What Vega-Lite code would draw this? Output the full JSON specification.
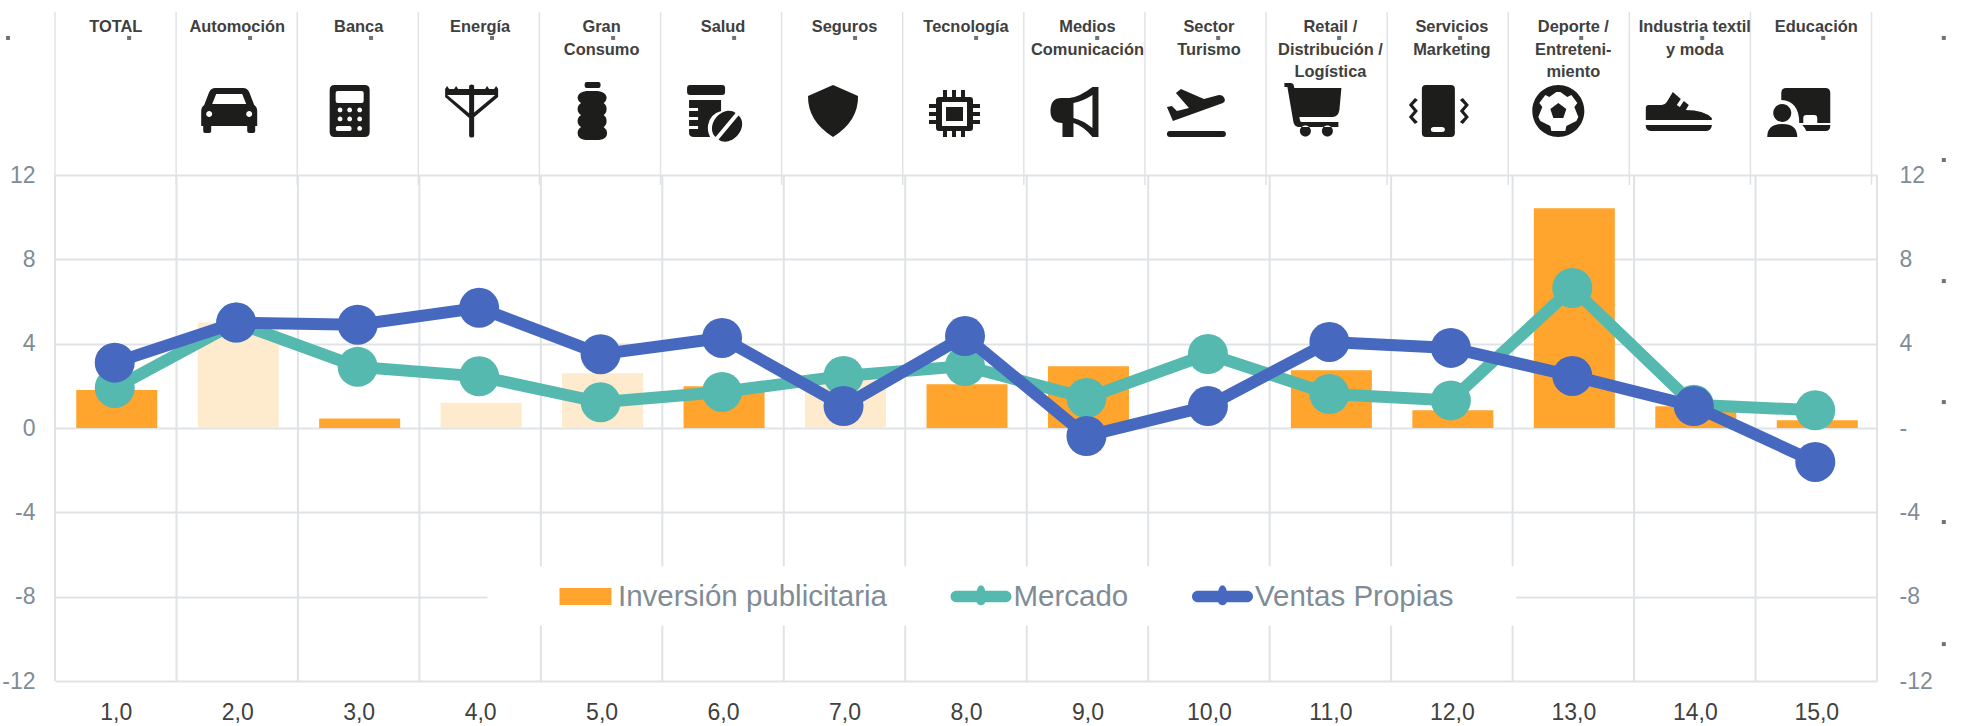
{
"$schema":"https://vega.github.io/schema/vega-lite/v6.json",
"autosize":"none",
"padding":{"left":55,"top":175,"right":87,"bottom":45},
"width":1822,"height":506,
"background":"white",
"config":{"view":{"stroke":null},"font":"Liberation Sans"},
"datasets":{
"valores":[
{"n":1,"serie":"Inversión publicitaria","valor":1.8,"atenuada":false},
{"n":2,"serie":"Inversión publicitaria","valor":5.0,"atenuada":true},
{"n":3,"serie":"Inversión publicitaria","valor":0.45,"atenuada":false},
{"n":4,"serie":"Inversión publicitaria","valor":1.2,"atenuada":true},
{"n":5,"serie":"Inversión publicitaria","valor":2.6,"atenuada":true},
{"n":6,"serie":"Inversión publicitaria","valor":1.98,"atenuada":false},
{"n":7,"serie":"Inversión publicitaria","valor":2.26,"atenuada":true},
{"n":8,"serie":"Inversión publicitaria","valor":2.07,"atenuada":false},
{"n":9,"serie":"Inversión publicitaria","valor":2.93,"atenuada":false},
{"n":11,"serie":"Inversión publicitaria","valor":2.74,"atenuada":false},
{"n":12,"serie":"Inversión publicitaria","valor":0.84,"atenuada":false},
{"n":13,"serie":"Inversión publicitaria","valor":10.42,"atenuada":false},
{"n":14,"serie":"Inversión publicitaria","valor":1.03,"atenuada":false},
{"n":15,"serie":"Inversión publicitaria","valor":0.37,"atenuada":false},
{"n":1,"serie":"Mercado","valor":1.9},
{"n":2,"serie":"Mercado","valor":5.0},
{"n":3,"serie":"Mercado","valor":2.9},
{"n":4,"serie":"Mercado","valor":2.45},
{"n":5,"serie":"Mercado","valor":1.22},
{"n":6,"serie":"Mercado","valor":1.71},
{"n":7,"serie":"Mercado","valor":2.47},
{"n":8,"serie":"Mercado","valor":2.94},
{"n":9,"serie":"Mercado","valor":1.42},
{"n":10,"serie":"Mercado","valor":3.51},
{"n":11,"serie":"Mercado","valor":1.61},
{"n":12,"serie":"Mercado","valor":1.31},
{"n":13,"serie":"Mercado","valor":6.64},
{"n":14,"serie":"Mercado","valor":1.1},
{"n":15,"serie":"Mercado","valor":0.84},
{"n":1,"serie":"Ventas Propias","valor":3.1},
{"n":2,"serie":"Ventas Propias","valor":5.0},
{"n":3,"serie":"Ventas Propias","valor":4.9},
{"n":4,"serie":"Ventas Propias","valor":5.7},
{"n":5,"serie":"Ventas Propias","valor":3.5},
{"n":6,"serie":"Ventas Propias","valor":4.27},
{"n":7,"serie":"Ventas Propias","valor":1.04},
{"n":8,"serie":"Ventas Propias","valor":4.36},
{"n":9,"serie":"Ventas Propias","valor":-0.38},
{"n":10,"serie":"Ventas Propias","valor":1.04},
{"n":11,"serie":"Ventas Propias","valor":4.08},
{"n":12,"serie":"Ventas Propias","valor":3.8},
{"n":13,"serie":"Ventas Propias","valor":2.47},
{"n":14,"serie":"Ventas Propias","valor":1.04},
{"n":15,"serie":"Ventas Propias","valor":-1.61}
],
"sectores":[
{"n":1,"nombre":"TOTAL"},
{"n":2,"nombre":"Automoción"},
{"n":3,"nombre":"Banca"},
{"n":4,"nombre":"Energía"},
{"n":5,"nombre":"Gran|Consumo"},
{"n":6,"nombre":"Salud"},
{"n":7,"nombre":"Seguros"},
{"n":8,"nombre":"Tecnología"},
{"n":9,"nombre":"Medios|Comunicación"},
{"n":10,"nombre":"Sector|Turismo"},
{"n":11,"nombre":"Retail /|Distribución /|Logística"},
{"n":12,"nombre":"Servicios|Marketing"},
{"n":13,"nombre":"Deporte /|Entreteni-|miento"},
{"n":14,"nombre":"Industria textil|y moda"},
{"n":15,"nombre":"Educación"}
],
"rejilla":[{"n":0.5},{"n":1.5},{"n":2.5},{"n":3.5},{"n":4.5},{"n":5.5},{"n":6.5},{"n":7.5},{"n":8.5},{"n":9.5},{"n":10.5},{"n":11.5},{"n":12.5},{"n":13.5},{"n":14.5},{"n":15.5}],
"cabecera":[{"n":0.5},{"n":1.497},{"n":2.494},{"n":3.491},{"n":4.488},{"n":5.485},{"n":6.482},{"n":7.479},{"n":8.476},{"n":9.473},{"n":10.47},{"n":11.467},{"n":12.464},{"n":13.461},{"n":14.458},{"n":15.455}],
"puntos":[
{"n":0.113,"v":18.5},{"n":1.11,"v":18.5},{"n":2.106,"v":18.5},{"n":3.102,"v":18.5},{"n":4.098,"v":18.5},{"n":5.095,"v":18.5},{"n":6.091,"v":18.5},{"n":7.087,"v":18.5},{"n":8.083,"v":18.5},{"n":9.08,"v":18.5},{"n":10.076,"v":18.5},{"n":11.072,"v":18.5},{"n":12.068,"v":18.5},{"n":13.065,"v":18.5},{"n":14.061,"v":18.5},{"n":15.057,"v":18.5},{"n":16.05,"v":18.5},
{"n":16.05,"v":12.71},{"n":16.05,"v":6.97},{"n":16.05,"v":1.23},{"n":16.05,"v":-4.46},{"n":16.05,"v":-10.25}
],
"fondo":[{"n":4.06,"n2":12.53,"v":-6.56,"v2":-9.37}]
},
"encoding":{"x":{"field":"n","type":"quantitative","scale":{"domain":[0.5,15.5],"padding":0},"axis":{"values":[1,2,3,4,5,6,7,8,9,10,11,12,13,14,15],"title":null,"grid":false,"domain":false,"ticks":false,"labelExpr":"replace(format(datum.value,'.1f'),'.',',')","labelFontSize":23,"labelColor":"#404040","labelPadding":20,"labelFont":"Liberation Sans"}}},
"layer":[
{"data":{"name":"rejilla"},"mark":{"type":"rule","stroke":"#E0E3E6","strokeWidth":2},
"encoding":{"y":{"datum":-12,"type":"quantitative","scale":{"domain":[-12,12]},"axis":{"orient":"left","values":[-12,-8,-4,0,4,8,12],"title":null,"domain":false,"ticks":false,"grid":true,"gridColor":"#E0E3E6","gridWidth":2,"labelExpr":"''+datum.value","labelFontSize":23,"labelColor":"#7F8C96","labelPadding":20,"labelFont":"Liberation Sans"}},"y2":{"datum":12}}},
{"data":{"name":"fondo"},"mark":{"type":"rect","fill":"white"},
"encoding":{"x2":{"field":"n2"},"y":{"field":"v","type":"quantitative","axis":{"orient":"right","values":[-12,-8,-4,0,4,8,12],"title":null,"domain":false,"ticks":false,"grid":false,"labelExpr":"datum.value==0?'-':''+datum.value","labelFontSize":23,"labelColor":"#7F8C96","labelPadding":22,"labelFont":"Liberation Sans"}},"y2":{"field":"v2"}}},
{"data":{"name":"valores"},"transform":[{"filter":"datum.serie=='Inversión publicitaria'"}],"mark":{"type":"bar","width":81,"xOffset":1},
"encoding":{"y":{"field":"valor","type":"quantitative","axis":null},"color":{"condition":{"test":"datum.atenuada","value":"#FEEACD"},"field":"serie","type":"nominal","scale":{"domain":["Inversión publicitaria","Mercado","Ventas Propias"],"range":["#FFA52E","#55B9B0","#4669BF"]},"legend":{"title":null,"orient":"none","legendX":500,"legendY":391,"direction":"horizontal","symbolSize":3721,"symbolStrokeWidth":0,"labelFontSize":29.5,"labelColor":"#7F8C96","labelFont":"Liberation Sans","labelOffset":2,"columnPadding":62.5,"labelLimit":500,"padding":0}}}},
{"data":{"name":"valores"},"transform":[{"filter":"datum.serie=='Mercado'"}],"mark":{"type":"line","strokeWidth":12,"xOffset":-1},"encoding":{"y":{"field":"valor","type":"quantitative","axis":null},"color":{"field":"serie","type":"nominal"}}},
{"data":{"name":"valores"},"transform":[{"filter":"datum.serie=='Mercado'"}],"mark":{"type":"point","filled":true,"opacity":1,"size":1600,"shape":"circle","xOffset":-1},"encoding":{"y":{"field":"valor","type":"quantitative","axis":null},"color":{"field":"serie","type":"nominal"}}},
{"data":{"name":"valores"},"transform":[{"filter":"datum.serie=='Ventas Propias'"}],"mark":{"type":"line","strokeWidth":12,"xOffset":-1},"encoding":{"y":{"field":"valor","type":"quantitative","axis":null},"color":{"field":"serie","type":"nominal"}}},
{"data":{"name":"valores"},"transform":[{"filter":"datum.serie=='Ventas Propias'"}],"mark":{"type":"point","filled":true,"opacity":1,"size":1600,"shape":"circle","xOffset":-1},"encoding":{"y":{"field":"valor","type":"quantitative","axis":null},"color":{"field":"serie","type":"nominal"}}},
{"data":{"name":"cabecera"},"mark":{"type":"rule","stroke":"#E0E3E6","strokeWidth":1.5,"clip":false},"encoding":{"y":{"datum":19.73,"type":"quantitative","axis":null},"y2":{"datum":11.53}}},
{"data":{"name":"puntos"},"mark":{"type":"point","shape":"square","filled":true,"size":16,"opacity":1,"color":"#6B7378"},"encoding":{"y":{"field":"v","type":"quantitative","axis":null}}},
{"data":{"name":"sectores"},"mark":{"type":"text","font":"Liberation Sans","fontWeight":"bold","fontSize":16.4,"color":"#404040","baseline":"top","align":"center","lineBreak":"|","lineHeight":22.5},"encoding":{"y":{"datum":19.38,"type":"quantitative","axis":null},"text":{"field":"nombre","type":"nominal"}}},
{"data":{"name":"sectores"},"transform":[{"filter":"datum.n==2"}],"mark":{"type":"point","filled":true,"opacity":1,"size":4,"color":"#1D1D1B","shape":"M-22,-23h28q4,0 6,4l5,13q3,2 3,6v15h-2v5q0,2-2,2h-4q-2,0-2-2v-5h-36v5q0,2-2,2h-4q-2,0-2-2v-5h-2v-15q0-4 3-6l5-13q2-4 6-4zM-21,-17l-4,10h34l-4,-10zM-31,3a3,3 0 1 0 6,0a3,3 0 1 0-6,0zM9,3a3,3 0 1 0 6,0a3,3 0 1 0-6,0z"},"encoding":{"y":{"datum":15.04,"type":"quantitative","axis":null}}},
{"data":{"name":"sectores"},"transform":[{"filter":"datum.n==3"}],"mark":{"type":"point","filled":true,"opacity":1,"size":4,"color":"#1D1D1B","shape":"M-24,-26h30q5,0 5,5v42q0,5-5,5h-30q-5,0-5-5v-42q0-5 5-5zM-21,-20q-2,0-2,2v8q0,2 2,2h24q2,0 2-2v-8q0-2-2-2zM-21,-1a2.4,2.4 0 1 0 4.8,0a2.4,2.4 0 1 0-4.8,0zM-11.4,-1a2.4,2.4 0 1 0 4.8,0a2.4,2.4 0 1 0-4.8,0zM-1.4,-1a2.4,2.4 0 1 0 4.8,0a2.4,2.4 0 1 0-4.8,0zM-21,8a2.4,2.4 0 1 0 4.8,0a2.4,2.4 0 1 0-4.8,0zM-11.4,8a2.4,2.4 0 1 0 4.8,0a2.4,2.4 0 1 0-4.8,0zM-1.4,8a2.4,2.4 0 1 0 4.8,0a2.4,2.4 0 1 0-4.8,0zM-21,15q-2,0-2,2.5q0,2.5 2,2.5h12q2,0 2-2.5q0-2.5-2-2.5zM-1.4,17.5a2.4,2.4 0 1 0 4.8,0a2.4,2.4 0 1 0-4.8,0z"},"encoding":{"y":{"datum":15.04,"type":"quantitative","axis":null}}},
{"data":{"name":"sectores"},"transform":[{"filter":"datum.n==4"}],"mark":{"type":"point","filled":true,"opacity":1,"size":4,"color":"#1D1D1B","shape":"M-11,-25q0,-1.5 2.5,-1.5q2.5,0 2.5,1.5v50q0,1.5-2.5,1.5q-2.5,0-2.5-1.5zM-35,-22l2,-3l2,3h5l2,-3l2,3h27l2,-3l2,3h5l2,-3l2,3v6h-53zM-33,-16l24,20l24,-20h3v2l-25,21h-4l-24,-21v-2z"},"encoding":{"y":{"datum":15.04,"type":"quantitative","axis":null}}},
{"data":{"name":"sectores"},"transform":[{"filter":"datum.n==5"}],"mark":{"type":"point","filled":true,"opacity":1,"size":4,"color":"#1D1D1B","shape":"M-15,-29h12q2,0 2,3q0,3-2,3h-12q-2,0-2-3q0-3 2-3zM-15,-20h11q8,1 9,6q0,4-3,6q3,2 3,6q0,4-3,6q3,2 3,6q0,4-3,6q3,2 3.5,6q0,6-8,7h-13.5q-8,-1-8,-7q0,-4 3.5,-6q-3.5,-2-3.5,-6q0,-4 3.5,-6q-3.5,-2-3.5,-6q0,-4 3.5,-6q-3.5,-2-3.5,-6q1,-5 9,-6z"},"encoding":{"y":{"datum":15.04,"type":"quantitative","axis":null}}},
{"data":{"name":"sectores"},"transform":[{"filter":"datum.n==6"}],"mark":{"type":"point","filled":true,"opacity":1,"size":4,"color":"#1D1D1B","shape":"M-33,-26h32q3,0 3,3v4q0,3-3,3h-32q-3,0-3-3v-4q0-3 3-3zM-34,-11h32v11q-11,3-13,14q-1,6 2,12h-16q-5,0-5-4v-4h9v-3h-9v-6h9v-3h-9v-6h9v-3h-9zM-7.5,26A15.6,12,-50,0,1,12.5,2zM15.5,4.5A15.6,12,-50,0,1,-4.5,28.5z"},"encoding":{"y":{"datum":15.04,"type":"quantitative","axis":null}}},
{"data":{"name":"sectores"},"transform":[{"filter":"datum.n==7"}],"mark":{"type":"point","filled":true,"opacity":1,"size":4,"color":"#1D1D1B","shape":"M-11.5,-26l25,11q0.5,25-25,41q-25.5,-16-25,-41z"},"encoding":{"y":{"datum":15.04,"type":"quantitative","axis":null}}},
{"data":{"name":"sectores"},"transform":[{"filter":"datum.n==8"}],"mark":{"type":"point","filled":true,"opacity":1,"size":4,"color":"#1D1D1B","shape":"M-27,-14h31q3,0 3,3v28q0,3-3,3h-31q-3,0-3-3v-28q0-3 3-3zM-24,-9v24h25v-24zM-20,-4h17v14h-17zM-23,-21h4v7h-4zM-14,-21h4v7h-4zM-5,-21h4v7h-4zM-23,20h4v6h-4zM-14,20h4v6h-4zM-5,20h4v6h-4zM-37,-7h8v4h-8zM-37,1h8v4h-8zM-37,9h8v4h-8zM6,-7h8v4h-8zM6,1h8v4h-8zM6,9h8v4h-8z"},"encoding":{"y":{"datum":15.04,"type":"quantitative","axis":null}}},
{"data":{"name":"sectores"},"transform":[{"filter":"datum.n==9"}],"mark":{"type":"point","filled":true,"opacity":1,"size":4,"color":"#1D1D1B","shape":"M-28,-13h10q10,-1 23,-11h6v50h-6q-9,-11-19,-14v14h-11v-14q-12,0-12-12q0-13 11-13zM-14,-8v15q9,2 19,10v-33q-9,6-19,8z"},"encoding":{"y":{"datum":15.04,"type":"quantitative","axis":null}}},
{"data":{"name":"sectores"},"transform":[{"filter":"datum.n==10"}],"mark":{"type":"point","filled":true,"opacity":1,"size":4,"color":"#1D1D1B","shape":"M-39,20h53q3,0 3,3q0,3-3,3h-53q-3,0-3-3q0-3 3-3zM-28,-22l23,10l15,-4q5,0 6,5q0,2-2,3l-50,18l-6,-14l5,-1l5,5l12,-3l-13,-15z"},"encoding":{"y":{"datum":15.04,"type":"quantitative","axis":null}}},
{"data":{"name":"sectores"},"transform":[{"filter":"datum.n==11"}],"mark":{"type":"point","filled":true,"opacity":1,"size":4,"color":"#1D1D1B","shape":"M-38,-23H11l-2,22q-1,7-7,7H-33zM-46,-28h6q3,0 3.5,3l6,34q0,2 2,2H8v5H-31q-5,0-6,-5L-43,-24h-3zM-30.5,20a5.5,5.5 0 1 0 11,0a5.5,5.5 0 1 0-11,0zM-8.5,20a5.5,5.5 0 1 0 11,0a5.5,5.5 0 1 0-11,0z"},"encoding":{"y":{"datum":15.04,"type":"quantitative","axis":null}}},
{"data":{"name":"sectores"},"transform":[{"filter":"datum.n==12"}],"mark":{"type":"point","filled":true,"opacity":1,"size":4,"color":"#1D1D1B","shape":"M-26,-26h25q4,0 4,4v44q0,4-4,4h-25q-4,0-4-4v-44q0-4 4-4zM-18,16q-3,0-3,2.5q0,2.5 3,2.5h8q3,0 3-2.5q0-2.5-3-2.5zM-37,-13l3,2l-5,5l5,6l-5,6l5,5l-3,2l-6,-7l5,-6l-5,-6zM11,-13l-3,2l5,5l-5,6l5,6l-5,5l3,2l6,-7l-5,-6l5,-6z"},"encoding":{"y":{"datum":15.04,"type":"quantitative","axis":null}}},
{"data":{"name":"sectores"},"transform":[{"filter":"datum.n==13"}],"mark":{"type":"point","filled":true,"opacity":1,"size":4,"color":"#1D1D1B","shape":"M-41,0a26,26 0 1 1 52,0a26,26 0 1 1-52,0zM-28,-16L-34,-8L-31,-4L-35,6L-33,10L-23,15L-22,20L-8,20L-7,15L3,10L5,6L1,-4L4,-8L-2,-16L-6,-14L-13,-19L-17,-19L-24,-14zM-15,-8L-7,-2L-10,7L-20,7L-23,-2z"},"encoding":{"y":{"datum":15.04,"type":"quantitative","axis":null}}},
{"data":{"name":"sectores"},"transform":[{"filter":"datum.n==14"}],"mark":{"type":"point","filled":true,"opacity":1,"size":4,"color":"#1D1D1B","shape":"M-49,9V-3q0,-3 3,-3H-33q3,0 5,-3l6,-10l8,7l-4,6l3,2l4,-6l5,4l-3,5q18,0 26,8v2zM-49,14h66v1q-1,5-6,5h-54q-6,0-6-5z"},"encoding":{"y":{"datum":15.04,"type":"quantitative","axis":null}}},
{"data":{"name":"sectores"},"transform":[{"filter":"datum.n==15"}],"mark":{"type":"point","filled":true,"opacity":1,"size":4,"color":"#1D1D1B","shape":"M-30,-23h39q5,0 5,5v30h-13v-5q0-3-3-3h-8q-3,0-3,3v5h-4Q-17,-10-35,-11V-18q0-5 5-5zM-14,14h28v1q0,5-5,5h-19q-1,-3-4,-6zM-43,2a9,9 0 1 0 18,0a9,9 0 1 0-18,0zM-49,26q0,-13 15,-13q15,0 15,13z"},"encoding":{"y":{"datum":15.04,"type":"quantitative","axis":null}}},
{"data":{"name":"valores"},"mark":{"type":"point","filled":true,"size":0,"opacity":1},"encoding":{"y":{"field":"valor","type":"quantitative","axis":null},"color":{"field":"serie","type":"nominal"},"shape":{"field":"serie","type":"nominal","scale":{"domain":["Inversión publicitaria","Mercado","Ventas Propias"],"range":["M-0.852,-0.279H0.852V0.279H-0.852Z","M-0.81,-0.19H-0.14Q-0.1,-0.36,0,-0.37Q0.1,-0.36,0.14,-0.19H0.81A0.19,0.19,0,0,1,0.81,0.19H0.14Q0.1,0.29,0,0.29Q-0.1,0.29,-0.14,0.19H-0.81A0.19,0.19,0,0,1,-0.81,-0.19Z","M-0.81,-0.19H-0.14Q-0.1,-0.36,0,-0.37Q0.1,-0.36,0.14,-0.19H0.81A0.19,0.19,0,0,1,0.81,0.19H0.14Q0.1,0.29,0,0.29Q-0.1,0.29,-0.14,0.19H-0.81A0.19,0.19,0,0,1,-0.81,-0.19Z"]},"legend":{"title":null}}}}
],
"resolve":{"axis":{"y":"independent"}}
}
